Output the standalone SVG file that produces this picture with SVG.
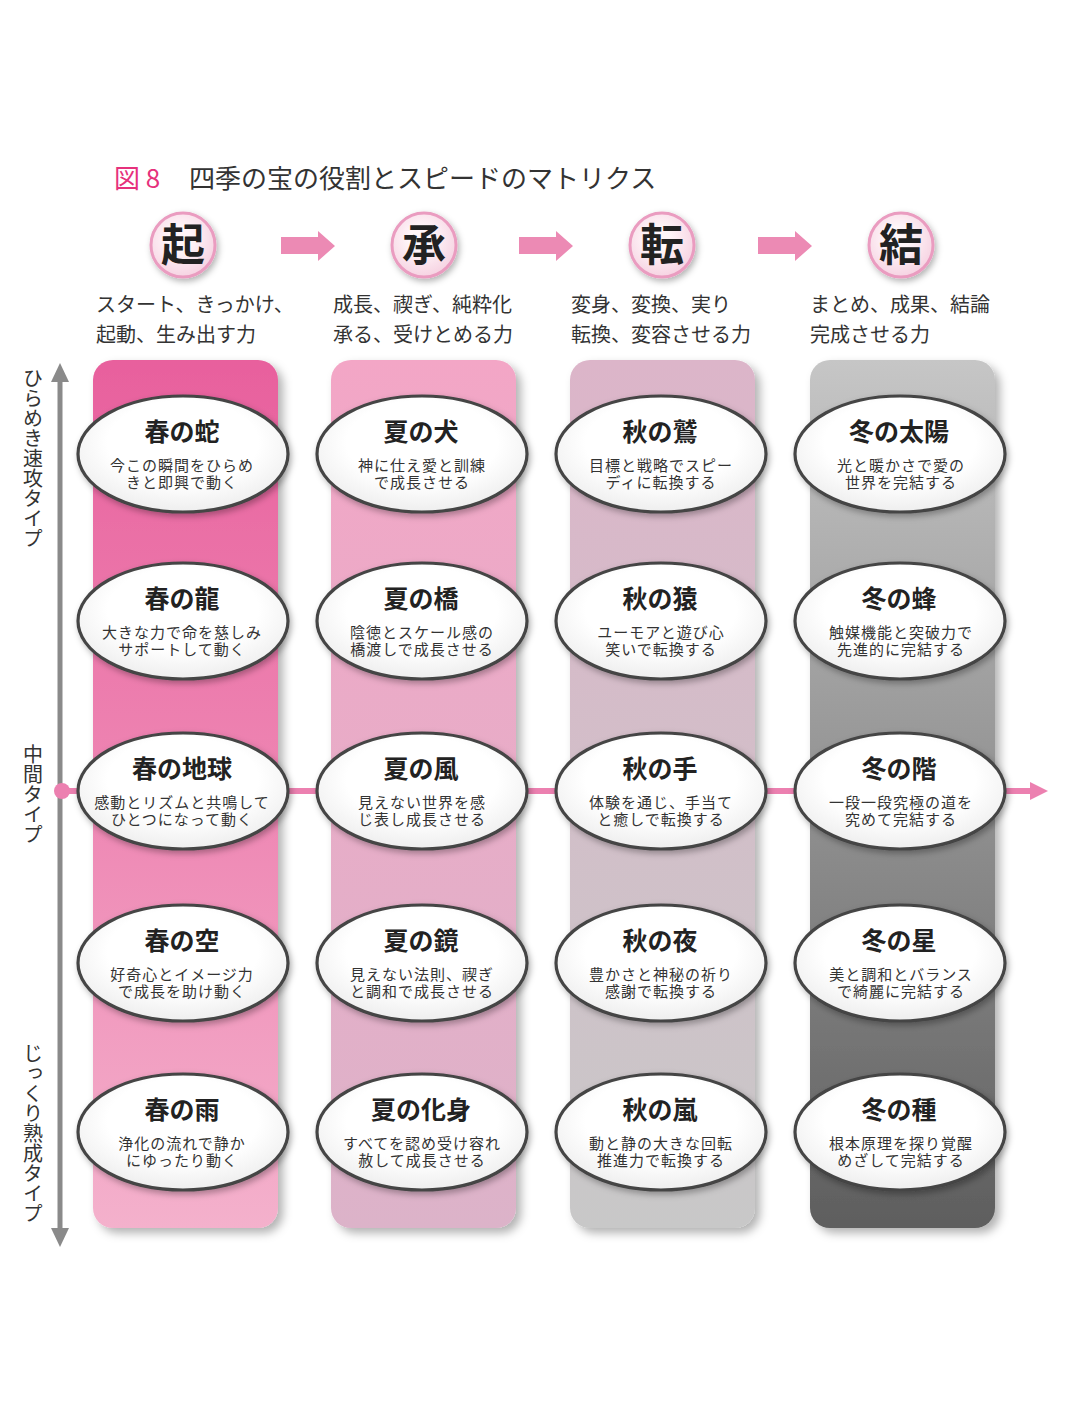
<svg xmlns="http://www.w3.org/2000/svg" width="1073" height="1424" viewBox="0 0 1073 1424">
<defs>
<style>
text{font-family:"Noto Sans CJK JP","Noto Sans",sans-serif;fill:#333}
.ttl{font-size:26px;fill:#333}
.hd{font-size:44px;font-weight:bold;fill:#222;text-anchor:middle}
.sub{font-size:20px;fill:#333}
.nm{font-size:25px;font-weight:bold;fill:#222;text-anchor:middle}
.ds{font-size:15px;letter-spacing:1px;fill:#333;text-anchor:middle}
.ax{font-size:20px;fill:#333;writing-mode:vertical-rl}
.el{fill:url(#gEl);stroke:#444444;stroke-width:3.2}
.hc{fill:url(#gHc);stroke:#ea9cc0;stroke-width:3}
.harr{fill:#ec8ab4}
</style>
<linearGradient id="g1" x1="0" y1="0" x2="0" y2="1"><stop offset="0" stop-color="#e8609d"/><stop offset="0.5" stop-color="#ee86b3"/><stop offset="1" stop-color="#f4b1cc"/></linearGradient>
<linearGradient id="g2" x1="0" y1="0" x2="0" y2="1"><stop offset="0" stop-color="#f3a6c6"/><stop offset="1" stop-color="#dcb3c9"/></linearGradient>
<linearGradient id="g3" x1="0" y1="0" x2="0" y2="1"><stop offset="0" stop-color="#dcb5c9"/><stop offset="1" stop-color="#c8c8c8"/></linearGradient>
<linearGradient id="g4" x1="0" y1="0" x2="0" y2="1"><stop offset="0" stop-color="#c6c6c6"/><stop offset="1" stop-color="#5e5e5e"/></linearGradient>
<radialGradient id="gEl" cx="0.5" cy="0.4" r="0.6"><stop offset="0.6" stop-color="#ffffff"/><stop offset="1" stop-color="#eeeeee"/></radialGradient>
<radialGradient id="gHc" cx="0.45" cy="0.4" r="0.6"><stop offset="0.3" stop-color="#fff6f9"/><stop offset="1" stop-color="#f6d3e2"/></radialGradient>
<filter id="sh" x="-20%" y="-10%" width="150%" height="130%"><feDropShadow dx="5" dy="5" stdDeviation="5" flood-color="#000" flood-opacity="0.3"/></filter>
<filter id="sh2" x="-20%" y="-20%" width="150%" height="150%"><feDropShadow dx="2" dy="3" stdDeviation="3" flood-color="#000" flood-opacity="0.3"/></filter>
</defs>
<rect width="1073" height="1424" fill="#ffffff"/>

<g id="title">
<text x="114" y="188" class="ttl" style="fill:#e6317c">図 8</text>
<text x="189" y="188" class="ttl">四季の宝の役割とスピードのマトリクス</text>
</g>

<g id="headers">
<g id="h-ki"><circle cx="183" cy="245" r="32" class="hc" filter="url(#sh2)"/><text x="183" y="261" class="hd">起</text></g>
<g id="h-sho"><circle cx="424" cy="245" r="32" class="hc" filter="url(#sh2)"/><text x="424" y="261" class="hd">承</text></g>
<g id="h-ten"><circle cx="662" cy="245" r="32" class="hc" filter="url(#sh2)"/><text x="662" y="261" class="hd">転</text></g>
<g id="h-ketsu"><circle cx="901" cy="245" r="32" class="hc" filter="url(#sh2)"/><text x="901" y="261" class="hd">結</text></g>
<text class="sub"><tspan x="96" y="312">スタート、きっかけ、</tspan><tspan x="96" y="342">起動、生み出す力</tspan></text>
<text class="sub"><tspan x="333" y="312">成長、禊ぎ、純粋化</tspan><tspan x="333" y="342">承る、受けとめる力</tspan></text>
<text class="sub"><tspan x="571" y="312">変身、変換、実り</tspan><tspan x="571" y="342">転換、変容させる力</tspan></text>
<text class="sub"><tspan x="810" y="312">まとめ、成果、結論</tspan><tspan x="810" y="342">完成させる力</tspan></text>
</g>

<g id="columns">
<rect x="93" y="360" width="185" height="868" rx="20" fill="url(#g1)" filter="url(#sh)"/>
<rect x="331" y="360" width="185" height="868" rx="20" fill="url(#g2)" filter="url(#sh)"/>
<rect x="570" y="360" width="185" height="868" rx="20" fill="url(#g3)" filter="url(#sh)"/>
<rect x="810" y="360" width="185" height="868" rx="20" fill="url(#g4)" filter="url(#sh)"/>
</g>

<g id="connectors">
<polygon class="harr" points="281,237 318,237 318,231 335,246 318,261 318,254 281,254"/>
<polygon class="harr" points="519,237 556,237 556,231 573,246 556,261 556,254 519,254"/>
<polygon class="harr" points="758,237 795,237 795,231 812,246 795,261 795,254 758,254"/>
<line x1="60" y1="378" x2="60" y2="1230" stroke="#8a8a8a" stroke-width="5"/>
<polygon points="60,363 69,382 51,382" fill="#8a8a8a"/>
<polygon points="60,1247 69,1228 51,1228" fill="#8a8a8a"/>
<line x1="62" y1="791" x2="1032" y2="791" stroke="#ec80b0" stroke-width="6"/>
<polygon points="1048,791 1030,782 1030,800" fill="#ec80b0"/>
<circle cx="62" cy="791" r="8" fill="#ec80b0"/>
</g>

<g id="axis-labels">
<text x="33" y="368" class="ax">ひらめき速攻タイプ</text>
<text x="33" y="744" class="ax">中間タイプ</text>
<text x="33" y="1043" class="ax">じっくり熟成タイプ</text>
</g>

<g id="n-haru-hebi"><ellipse cx="183" cy="454" rx="105" ry="58" class="el" filter="url(#sh2)"/><text x="182" y="441" class="nm">春の蛇</text><text class="ds"><tspan x="182" y="471">今この瞬間をひらめ</tspan><tspan x="182" y="488">きと即興で動く</tspan></text></g>
<g id="n-haru-ryu"><ellipse cx="183" cy="621" rx="105" ry="58" class="el" filter="url(#sh2)"/><text x="182" y="608" class="nm">春の龍</text><text class="ds"><tspan x="182" y="638">大きな力で命を慈しみ</tspan><tspan x="182" y="655">サポートして動く</tspan></text></g>
<g id="n-haru-chikyu"><ellipse cx="183" cy="791" rx="105" ry="58" class="el" filter="url(#sh2)"/><text x="182" y="778" class="nm">春の地球</text><text class="ds"><tspan x="182" y="808">感動とリズムと共鳴して</tspan><tspan x="182" y="825">ひとつになって動く</tspan></text></g>
<g id="n-haru-sora"><ellipse cx="183" cy="963" rx="105" ry="58" class="el" filter="url(#sh2)"/><text x="182" y="950" class="nm">春の空</text><text class="ds"><tspan x="182" y="980">好奇心とイメージ力</tspan><tspan x="182" y="997">で成長を助け動く</tspan></text></g>
<g id="n-haru-ame"><ellipse cx="183" cy="1132" rx="105" ry="58" class="el" filter="url(#sh2)"/><text x="182" y="1119" class="nm">春の雨</text><text class="ds"><tspan x="182" y="1149">浄化の流れで静か</tspan><tspan x="182" y="1166">にゆったり動く</tspan></text></g>

<g id="n-natsu-inu"><ellipse cx="422" cy="454" rx="105" ry="58" class="el" filter="url(#sh2)"/><text x="421" y="441" class="nm">夏の犬</text><text class="ds"><tspan x="422" y="471">神に仕え愛と訓練</tspan><tspan x="422" y="488">で成長させる</tspan></text></g>
<g id="n-natsu-hashi"><ellipse cx="422" cy="621" rx="105" ry="58" class="el" filter="url(#sh2)"/><text x="421" y="608" class="nm">夏の橋</text><text class="ds"><tspan x="422" y="638">陰徳とスケール感の</tspan><tspan x="422" y="655">橋渡しで成長させる</tspan></text></g>
<g id="n-natsu-kaze"><ellipse cx="422" cy="791" rx="105" ry="58" class="el" filter="url(#sh2)"/><text x="421" y="778" class="nm">夏の風</text><text class="ds"><tspan x="422" y="808">見えない世界を感</tspan><tspan x="422" y="825">じ表し成長させる</tspan></text></g>
<g id="n-natsu-kagami"><ellipse cx="422" cy="963" rx="105" ry="58" class="el" filter="url(#sh2)"/><text x="421" y="950" class="nm">夏の鏡</text><text class="ds"><tspan x="422" y="980">見えない法則、禊ぎ</tspan><tspan x="422" y="997">と調和で成長させる</tspan></text></g>
<g id="n-natsu-keshin"><ellipse cx="422" cy="1132" rx="105" ry="58" class="el" filter="url(#sh2)"/><text x="421" y="1119" class="nm">夏の化身</text><text class="ds"><tspan x="422" y="1149">すべてを認め受け容れ</tspan><tspan x="422" y="1166">赦して成長させる</tspan></text></g>

<g id="n-aki-washi"><ellipse cx="661" cy="454" rx="105" ry="58" class="el" filter="url(#sh2)"/><text x="660" y="441" class="nm">秋の鷲</text><text class="ds"><tspan x="661" y="471">目標と戦略でスピー</tspan><tspan x="661" y="488">ディに転換する</tspan></text></g>
<g id="n-aki-saru"><ellipse cx="661" cy="621" rx="105" ry="58" class="el" filter="url(#sh2)"/><text x="660" y="608" class="nm">秋の猿</text><text class="ds"><tspan x="661" y="638">ユーモアと遊び心</tspan><tspan x="661" y="655">笑いで転換する</tspan></text></g>
<g id="n-aki-te"><ellipse cx="661" cy="791" rx="105" ry="58" class="el" filter="url(#sh2)"/><text x="660" y="778" class="nm">秋の手</text><text class="ds"><tspan x="661" y="808">体験を通じ、手当て</tspan><tspan x="661" y="825">と癒しで転換する</tspan></text></g>
<g id="n-aki-yoru"><ellipse cx="661" cy="963" rx="105" ry="58" class="el" filter="url(#sh2)"/><text x="660" y="950" class="nm">秋の夜</text><text class="ds"><tspan x="661" y="980">豊かさと神秘の祈り</tspan><tspan x="661" y="997">感謝で転換する</tspan></text></g>
<g id="n-aki-arashi"><ellipse cx="661" cy="1132" rx="105" ry="58" class="el" filter="url(#sh2)"/><text x="660" y="1119" class="nm">秋の嵐</text><text class="ds"><tspan x="661" y="1149">動と静の大きな回転</tspan><tspan x="661" y="1166">推進力で転換する</tspan></text></g>

<g id="n-fuyu-taiyo"><ellipse cx="900" cy="454" rx="105" ry="58" class="el" filter="url(#sh2)"/><text x="899" y="441" class="nm">冬の太陽</text><text class="ds"><tspan x="901" y="471">光と暖かさで愛の</tspan><tspan x="901" y="488">世界を完結する</tspan></text></g>
<g id="n-fuyu-hachi"><ellipse cx="900" cy="621" rx="105" ry="58" class="el" filter="url(#sh2)"/><text x="899" y="608" class="nm">冬の蜂</text><text class="ds"><tspan x="901" y="638">触媒機能と突破力で</tspan><tspan x="901" y="655">先進的に完結する</tspan></text></g>
<g id="n-fuyu-kai"><ellipse cx="900" cy="791" rx="105" ry="58" class="el" filter="url(#sh2)"/><text x="899" y="778" class="nm">冬の階</text><text class="ds"><tspan x="901" y="808">一段一段究極の道を</tspan><tspan x="901" y="825">究めて完結する</tspan></text></g>
<g id="n-fuyu-hoshi"><ellipse cx="900" cy="963" rx="105" ry="58" class="el" filter="url(#sh2)"/><text x="899" y="950" class="nm">冬の星</text><text class="ds"><tspan x="901" y="980">美と調和とバランス</tspan><tspan x="901" y="997">で綺麗に完結する</tspan></text></g>
<g id="n-fuyu-tane"><ellipse cx="900" cy="1132" rx="105" ry="58" class="el" filter="url(#sh2)"/><text x="899" y="1119" class="nm">冬の種</text><text class="ds"><tspan x="901" y="1149">根本原理を探り覚醒</tspan><tspan x="901" y="1166">めざして完結する</tspan></text></g>
</svg>
